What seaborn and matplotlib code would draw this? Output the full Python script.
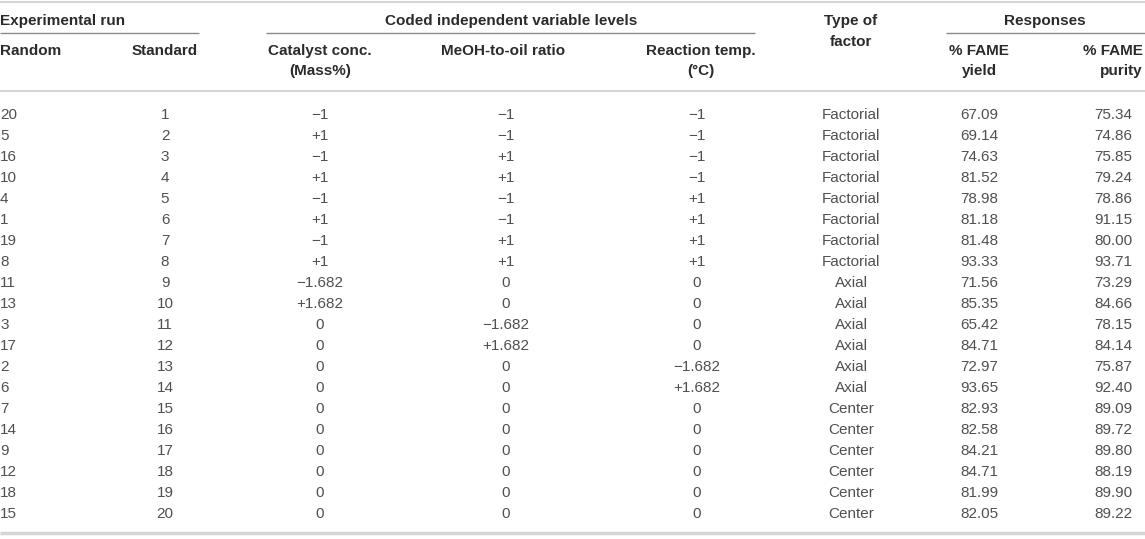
import numpy as np
import pandas as pd
import matplotlib
matplotlib.use('Agg')
import matplotlib.pyplot as plt
import seaborn as sns

# table values
random_run = [20, 5, 16, 10, 4, 1, 19, 8, 11, 13, 3, 17, 2, 6, 7, 14, 9, 12, 18, 15]
standard_run = [1, 2, 3, 4, 5, 6, 7, 8, 9, 10, 11, 12, 13, 14, 15, 16, 17, 18, 19, 20]
catalyst = [-1, 1, -1, 1, -1, 1, -1, 1, -1.682, 1.682, 0, 0, 0, 0, 0, 0, 0, 0, 0, 0]
meoh_ratio = [-1, -1, 1, 1, -1, -1, 1, 1, 0, 0, -1.682, 1.682, 0, 0, 0, 0, 0, 0, 0, 0]
reaction_temp = [-1, -1, -1, -1, 1, 1, 1, 1, 0, 0, 0, 0, -1.682, 1.682, 0, 0, 0, 0, 0, 0]
factor_type = ['Factorial', 'Factorial', 'Factorial', 'Factorial', 'Factorial',
               'Factorial', 'Factorial', 'Factorial', 'Axial', 'Axial', 'Axial',
               'Axial', 'Axial', 'Axial', 'Center', 'Center', 'Center', 'Center',
               'Center', 'Center']
fame_yield = [67.09, 69.14, 74.63, 81.52, 78.98, 81.18, 81.48, 93.33, 71.56, 85.35,
              65.42, 84.71, 72.97, 93.65, 82.93, 82.58, 84.21, 84.71, 81.99, 82.05]
fame_purity = [75.34, 74.86, 75.85, 79.24, 78.86, 91.15, 80.00, 93.71, 73.29, 84.66,
               78.15, 84.14, 75.87, 92.40, 89.09, 89.72, 89.80, 88.19, 89.90, 89.22]

group_headers = ['Experimental run', 'Coded independent variable levels', 'Responses']
col_headers = ['Random', 'Standard', 'Catalyst conc.\n(Mass%)', 'MeOH-to-oil ratio',
               'Reaction temp.\n(°C)', 'Type of\nfactor', '% FAME\nyield', '% FAME\npurity']


def coded(v):
    # coded level as printed in the paper
    if v == 0:
        return '0'
    sign = '+' if v > 0 else '\u2212'
    s = f'{abs(v):.3f}'.rstrip('0').rstrip('.')
    return sign + s


df = pd.DataFrame({
    'Random': [str(v) for v in random_run],
    'Standard': [str(v) for v in standard_run],
    'Catalyst': [coded(v) for v in catalyst],
    'MeOH': [coded(v) for v in meoh_ratio],
    'Temp': [coded(v) for v in reaction_temp],
    'Type': factor_type,
    'Yield': [f'{v:.2f}' for v in fame_yield],
    'Purity': [f'{v:.2f}' for v in fame_purity],
})

sns.set_theme(style='white')
plt.rcParams['font.family'] = ['Liberation Sans', 'DejaVu Sans']

W, H = 1145, 539
fig = plt.figure(figsize=(W / 100, H / 100), dpi=100)
ax = fig.add_axes([0, 0, 1, 1])
ax.set_xlim(0, W)
ax.set_ylim(H, 0)
ax.axis('off')

head_color = '#2b2b2b'
body_color = '#505050'
fs = 11

# column x positions and alignment for the body
cols = [('Random', 0, 'left'), ('Standard', 165, 'center'), ('Catalyst', 320, 'center'),
        ('MeOH', 506, 'center'), ('Temp', 697, 'center'), ('Type', 851, 'center'),
        ('Yield', 979, 'center'), ('Purity', 1113, 'center')]

first_row, row_step = 115, 21
for i, row in df.iterrows():
    y = first_row + i * row_step
    for key, x, ha in cols:
        ax.text(x, y, row[key], ha=ha, va='center', fontsize=fs, color=body_color)

# rules
ax.hlines(1.5, 0, W, color='#d6d6d6', lw=1.5)
ax.hlines(91, 0, W, color='#d6d6d6', lw=1.5)
ax.hlines(532.5, 0, W, color='#d6d6d6', lw=2.5)
ax.hlines(33, 0, 199, color='#8a8a8a', lw=1.0)
ax.hlines(33, 266, 755, color='#8a8a8a', lw=1.0)
ax.hlines(33, 946, W, color='#8a8a8a', lw=1.0)

# group headers
hk = dict(fontsize=fs, color=head_color, fontweight='bold', va='center')
ax.text(0, 21, group_headers[0], ha='left', **hk)
ax.text(511, 21, group_headers[1], ha='center', **hk)
ax.text(1045, 21, group_headers[2], ha='center', **hk)

# column headers (line by line)
ax.text(0, 51, col_headers[0], ha='left', **hk)
ax.text(165, 51, col_headers[1], ha='center', **hk)
cat1, cat2 = col_headers[2].split('\n')
ax.text(320, 51, cat1, ha='center', **hk)
ax.text(320, 71, cat2, ha='center', **hk)
ax.text(503, 51, col_headers[3], ha='center', **hk)
rt1, rt2 = col_headers[4].split('\n')
ax.text(701, 51, rt1, ha='center', **hk)
ax.text(701, 71, rt2, ha='center', **hk)
tf1, tf2 = col_headers[5].split('\n')
ax.text(851, 21, tf1, ha='center', **hk)
ax.text(851, 42, tf2, ha='center', **hk)
y1, y2 = col_headers[6].split('\n')
ax.text(979, 51, y1, ha='center', **hk)
ax.text(979, 71, y2, ha='center', **hk)
p1, p2 = col_headers[7].split('\n')
ax.text(1143, 51, p1, ha='right', **hk)
ax.text(1143, 71, p2, ha='right', **hk)

fig.savefig('out.png', dpi=100, facecolor='white')
